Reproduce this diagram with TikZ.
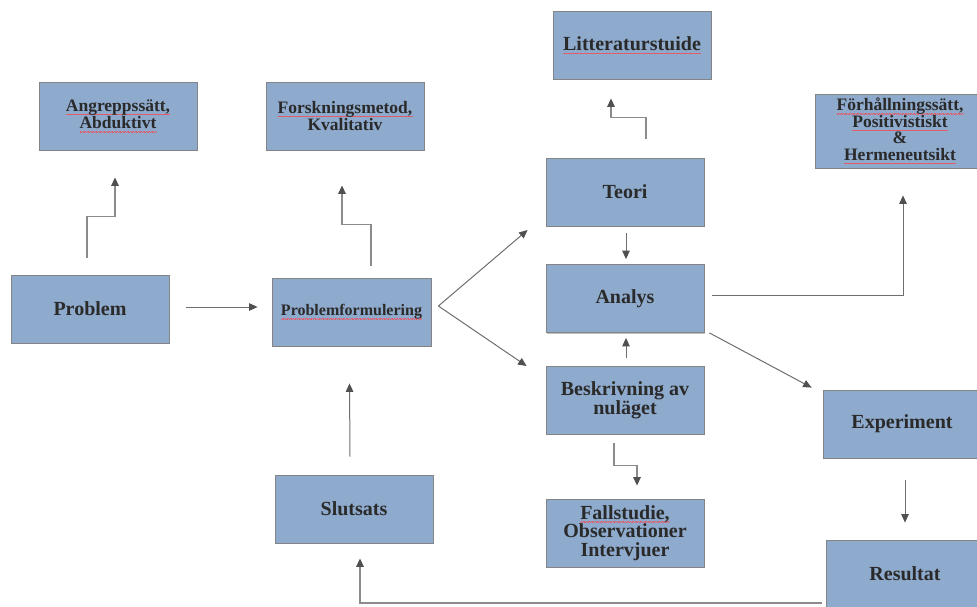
\documentclass[tikz,border=0pt]{standalone}
\usepackage{fontspec}
\setmainfont{Liberation Serif}
\usetikzlibrary{arrows.meta,calc,shadows}
\definecolor{boxfill}{HTML}{8EAACC}
\definecolor{boxline}{HTML}{858585}
\definecolor{txt}{HTML}{2A2A2A}
\definecolor{arrline}{HTML}{6E6E6E}
\definecolor{arrhead}{HTML}{505050}
\definecolor{spell}{HTML}{E25C6A}
% red wavy underline for flagged words
\newsavebox\spellbox
\newcommand\spellerr[1]{\sbox\spellbox{#1}%
  \rlap{\textcolor{spell}{\hbox to\wd\spellbox{\xleaders\hbox{\rule[-3.3pt]{0.8pt}{0.4pt}\rule[-2.8pt]{0.8pt}{0.4pt}}\hfill}}}%
  \usebox\spellbox}
\begin{document}
\begin{tikzpicture}[x=1pt,y=-1pt,
  box/.style={draw=boxline, line width=0.8pt, fill=boxfill,
    drop shadow={shadow xshift=1.2pt, shadow yshift=-1.2pt, fill=black, opacity=0.25},
    minimum width=158pt, minimum height=68pt, inner sep=0pt, align=center, text=txt,
    font=\bfseries\fontsize{20}{18.8}\selectfont},
  mid/.style={font=\bfseries\fontsize{17.5}{17.5}\selectfont},
  small/.style={font=\bfseries\fontsize{16}{16}\selectfont},
  arr/.style={draw=arrline, line width=1pt, -{Triangle[length=8.5pt,width=7.5pt,color=arrhead]}},
  elbow/.style={arr, line width=1.4pt, draw=arrline!80}
]
\useasboundingbox (0,0) rectangle (977,606);
\clip (0,0) rectangle (977,606);

% boxes
\node[box, mid] (ang) at (118,116) {\spellerr{Angreppssätt,}\\\spellerr{Abduktivt}};
\node[box, mid] (fors) at (345,116) {\spellerr{Forskningsmetod,}\\Kvalitativ};
\node[box] (litt) at (632,45) {\spellerr{Litteraturstuide}};
\node[box, mid, minimum width=170pt, minimum height=74pt, font=\bfseries\fontsize{17.5}{16.6}\selectfont] (forh) at (900,131)
  {\spellerr{Förhållningssätt,}\\\spellerr{Positivistiskt}\\\&\\\spellerr{Hermeneutsikt}};
\node[box] (teori) at (625,192) {Teori};
\node[box] (analys) at (625,298.5) {Analys};
\node[box] (besk) at (625,400) {Beskrivning av\\nuläget};
\node[box] (fall) at (625,533) {\spellerr{Fallstudie,}\\Observationer\\Intervjuer};
\node[box] (problem) at (90,309) {Problem};
\node[box, small, minimum width=159pt] (pf) at (351.5,312) {\spellerr{Problemformulering}};
\node[box] (slut) at (354,509) {Slutsats};
\node[box] (exp) at (902,424) {Experiment};
\node[box] (res) at (905,574) {Resultat};

% connector end points
\coordinate (pfsplit) at ($(pf.east)+(7,-6)$);

% connectors
\draw[arr] ($(problem.east)+(17,-2)$) -- ($(pf.west)+(-14,-5)$);
\draw[elbow] ($(problem.north)+(-3,-17)$) -- ++(0,-41) -| ($(ang.south)+(-3,27)$);
\draw[elbow] ($(pf.north)+(19.5,-12)$) -- ++(0,-41) -| ($(fors.south)+(-3,35)$);
\draw[arr] (pfsplit) -- ($(teori.west)+(-18,38)$);
\draw[arr] (pfsplit) -- ($(besk.west)+(-19,-34)$);
\draw[arr] ($(teori.south)+(1,7)$) -- ($(analys.north)+(1,-5)$);
\draw[arr] ($(besk.north)+(1,-8)$) -- ($(analys.south)+(1,5)$);
\draw[elbow] ($(teori.north)+(21,-19)$) -- ++(0,-21) -| ($(litt.south)+(-21,19)$);
\draw[arr] ($(analys.east)+(8,-3)$) -| ($(forh.south)+(3,27)$);
\draw[arr] ($(analys.south east)+(5,0)$) -- ($(exp.north west)+(-11,-2)$);
\draw[elbow] ($(besk.south)+(-11,9)$) -- ++(0,22) -| ($(fall.north)+(12,-13)$);
\draw[arr] ($(exp.south)+(3,22)$) -- ($(res.north)+(0,-17)$);
\draw[elbow] ($(res.west)+(-4,29)$) -| ($(slut.south)+(6,15)$);
\draw[arr] ($(slut.north)+(-4,-18)$) -- ($(pf.south)+(-2,37)$);
\end{tikzpicture}
\end{document}
